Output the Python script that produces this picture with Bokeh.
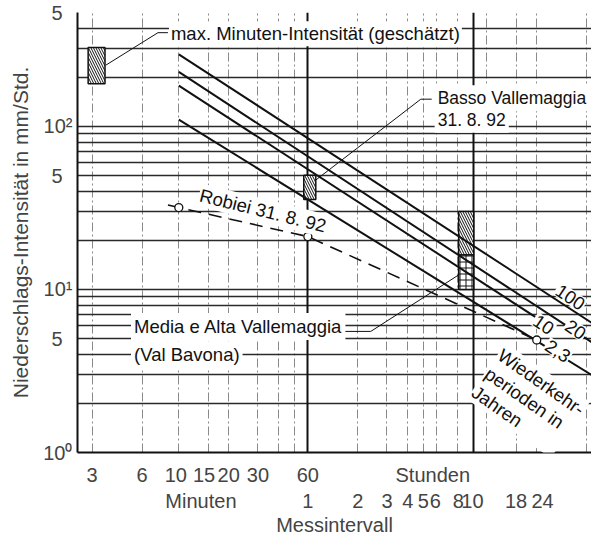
from bokeh.plotting import figure
from bokeh.models import LogAxis, FixedTicker, Label, Grid
from bokeh.embed import file_html
from bokeh.resources import INLINE

# ---------------- data ----------------
# return-period lines: intensity (mm/Std.) vs. duration (minutes)
rp_names = ["100", "20", "10", "2,3"]
rp_dur = [[10, 3850], [10, 3850], [10, 1440], [10, 3850]]
rp_int = [[277, 5.4], [216, 4.1], [178, 6.7], [110, 2.6]]

# Robiei 31.8.92 (dashed)
robiei_dur = [8.6, 10, 60, 1440]
robiei_int = [33, 31.8, 21.1, 4.9]
robiei_pt_dur = [10, 60, 1440]
robiei_pt_int = [31.8, 21.1, 4.9]

# hatched ranges: (duration from, duration to, intensity low, intensity high)
max_minute_box = (2.84, 3.59, 183, 305)
basso_box = (56.7, 67.0, 35.6, 50.2)
media_hatch_box = (487, 600, 16.3, 30.1)
media_cross_box = (487, 600, 10.0, 16.3)

# axes
x_labels_min = ["3", "6", "10", "15", "20", "30", "60", "Stunden"]
x_labels_h = ["Minuten", "1", "2", "3", "4", "5", "6", "8", "10", "18", "24"]
y_ticks = [1, 5, 10, 50, 100, 500]
y_labels = ["10\u2070", "5\u2002", "10\u00b9", "5\u2002", "10\u00b2", "5\u2002"]
y_grid_vals = [1, 2, 3, 4, 5, 6, 7, 8, 9, 10, 20, 30, 40, 50, 60, 70, 80, 90,
               100, 200, 300, 400, 500]
x_grid_vals = [3, 6, 10, 15, 20, 30, 40, 50, 120, 180, 240, 300, 360, 480,
               720, 1080, 1440, 2880]
x_heavy_vals = [60, 600]

# ---------------- layout (label anchor positions, minutes) ----------------
x_labelpos_min = [3, 6, 9.6, 14.2, 20, 30, 60, 340]
x_labelpos_h = [13.6, 60, 120, 180, 240, 298, 352, 485, 590, 1080, 1560]

FONT = "Liberation Sans"
ANN = "18.5px"

p = figure(width=591, height=538, x_axis_type="log", y_axis_type="log",
           x_range=(2.45, 3080), y_range=(1, 500),
           output_backend="svg", toolbar_location=None,
           min_border_left=77, min_border_right=0, min_border_top=12,
           min_border_bottom=0, background_fill_color="white",
           border_fill_color="white")
p.outline_line_color = None

# grids
p.xgrid.ticker = FixedTicker(ticks=x_grid_vals, minor_ticks=[])
p.xgrid.grid_line_color = "#8a8a8a"
p.xgrid.grid_line_width = 1
p.xgrid.grid_line_dash = "9 3 2 3"
p.ygrid.ticker = FixedTicker(ticks=y_grid_vals, minor_ticks=[])
p.ygrid.grid_line_color = "#2a2a2a"
p.ygrid.grid_line_width = 1.5
heavy = Grid(dimension=0, ticker=FixedTicker(ticks=x_heavy_vals, minor_ticks=[]),
             grid_line_color="#111111", grid_line_width=2)
p.add_layout(heavy)

# y axis
ya = p.yaxis[0]
ya.ticker = FixedTicker(ticks=y_ticks, minor_ticks=[])
ya.major_label_overrides = dict(zip(y_ticks, y_labels))
ya.axis_label = "Niederschlags-Intensität in mm/Std."
ya.axis_label_text_font = FONT
ya.axis_label_text_font_size = "21px"
ya.axis_label_text_font_style = "normal"
ya.axis_label_standoff = 8
ya.major_label_text_font = FONT
ya.major_label_text_font_size = "20px"
ya.major_label_standoff = 5
ya.major_tick_out = 0
ya.major_tick_in = 0
ya.minor_tick_out = 0
ya.minor_tick_in = 0
ya.axis_line_width = 2
ya.axis_line_color = "#111111"

# x axis row 1 (minutes)
xa = p.xaxis[0]
xa.ticker = FixedTicker(ticks=x_labelpos_min, minor_ticks=[])
xa.major_label_overrides = dict(zip(x_labelpos_min, x_labels_min))
xa.major_label_text_font = FONT
xa.major_label_text_font_size = "20px"
xa.major_label_standoff = 11
xa.major_tick_out = 0
xa.major_tick_in = 0
xa.minor_tick_out = 0
xa.minor_tick_in = 0
xa.axis_line_width = 2
xa.axis_line_color = "#111111"

# x axis row 2 (hours) + axis title
xa2 = LogAxis(ticker=FixedTicker(ticks=x_labelpos_h, minor_ticks=[]))
xa2.major_label_overrides = dict(zip(x_labelpos_h, x_labels_h))
xa2.major_label_text_font = FONT
xa2.major_label_text_font_size = "20px"
xa2.major_label_standoff = 1
xa2.major_tick_out = 0
xa2.major_tick_in = 0
xa2.minor_tick_out = 0
xa2.minor_tick_in = 0
xa2.major_tick_line_color = None
xa2.minor_tick_line_color = None
xa2.axis_line_color = None
xa2.axis_label = "Messintervall"
xa2.axis_label_text_font = FONT
xa2.axis_label_text_font_size = "20px"
xa2.axis_label_text_font_style = "normal"
xa2.axis_label_standoff = -1
p.add_layout(xa2, "below")

# hatched boxes
def box(b, pattern, scale):
    p.quad(left=[b[0]], right=[b[1]], bottom=[b[2]], top=[b[3]],
           fill_color="white", line_color="#111111", line_width=1.5,
           hatch_pattern=pattern, hatch_color="#111111", hatch_weight=1,
           hatch_scale=scale)

box(max_minute_box, "\\", 5)
box(basso_box, "\\", 5)
box(media_hatch_box, "\\", 5)
box(media_cross_box, "+", 6)

# return period lines
for d, v in zip(rp_dur, rp_int):
    p.line(d, v, line_color="#111111", line_width=2)

# Robiei
p.line(robiei_dur, robiei_int, line_color="#111111", line_width=1.6,
       line_dash="13 8")
p.scatter(robiei_pt_dur, robiei_pt_int, marker="circle", size=8,
          fill_color="white", line_color="#111111", line_width=1.3)

# leader lines
p.line([3.64, 7.49, 8.6], [238, 376, 376], line_color="#111111", line_width=1)
p.line([67, 288, 335], [46.9, 147, 147], line_color="#111111", line_width=1)
p.line([94.8, 143.7, 488], [5.53, 5.53, 12.3], line_color="#111111", line_width=1)

def lab(x, y, text, align="left", baseline="middle", angle=0.0, pad=2,
        size=ANN, lh=1.2):
    L = Label(x=x, y=y, text=text, text_align=align, text_baseline=baseline,
              angle=angle, text_font=FONT, text_font_size=size,
              text_color="#111111", background_fill_color="white",
              padding=pad, text_line_height=lh)
    p.add_layout(L)

lab(8.72, 371, "max. Minuten-Intensität (geschätzt)")
lab(349, 149, "Basso Vallemaggia", pad=3, size="17.5px")
lab(349, 110, "31. 8. 92", pad=3, size="17.5px")
lab(5.15, 5.92, "Media e Alta Vallemaggia", pad=3)
lab(5.15, 3.97, "(Val Bavona)", pad=3)
lab(32.2, 30.5, "Robiei 31. 8. 92", align="center", angle=-0.244, pad=1)

rp_label_pos = [(2298, 8.96), (2470, 5.68), (1585, 6.09), (1932, 4.2)]
for name, (x, y) in zip(rp_names, rp_label_pos):
    lab(x, y, name, align="center", angle=-0.59, pad=1)

lab(937, 4.69, "Wiederkehr-\nperioden in\nJahren", baseline="top",
    angle=-0.611, pad=1, lh=1.08)

open("out.html", "w").write(file_html(p, INLINE))
